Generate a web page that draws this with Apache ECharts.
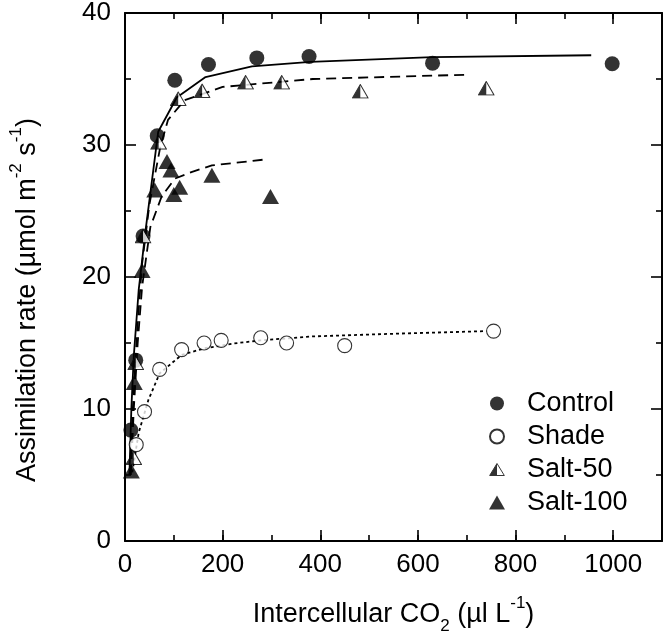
<!DOCTYPE html>
<html>
<head>
<meta charset="utf-8">
<script src="https://cdn.jsdelivr.net/npm/echarts@6/dist/echarts.min.js"></script>
<style>html,body{margin:0;padding:0;background:#fff}#c{width:665px;height:641px}</style>
</head>
<body>
<div id="c"></div>
<script>
// ---- data ----
const seriesNames = ['Control', 'Shade', 'Salt-50', 'Salt-100'];
const controlX = [12, 22, 37, 66, 102, 171, 270, 377, 630, 998];
const controlY = [8.4, 13.7, 23.1, 30.7, 34.9, 36.1, 36.6, 36.7, 36.2, 36.15];
const shadeX = [23, 40, 71, 116, 162, 197, 278, 331, 450, 755];
const shadeY = [7.3, 9.8, 13.0, 14.5, 15.0, 15.2, 15.4, 15.0, 14.8, 15.9];
const salt50X = [18, 22, 37, 69, 109, 158, 247, 321, 482, 740];
const salt50Y = [6.3, 13.5, 23.1, 30.2, 33.5, 34.1, 34.75, 34.75, 34.07, 34.3];
const salt100X = [13, 19, 35, 61, 86, 94, 100, 112, 178, 298];
const salt100Y = [5.3, 12.0, 20.5, 26.6, 28.75, 28.1, 26.25, 26.8, 27.7, 26.1];
// fitted curves
const controlFitX = [9, 13, 18, 28, 42, 68, 106, 165, 260, 380, 630, 955];
const controlFitY = [5.0, 10.0, 14.0, 19.0, 23.5, 31.0, 33.6, 35.15, 35.95, 36.3, 36.65, 36.8];
const shadeFitX = [15, 28, 48, 71, 116, 163, 224, 278, 385, 550, 740];
const shadeFitY = [5.2, 8.2, 10.7, 12.7, 14.1, 14.6, 14.97, 15.2, 15.5, 15.7, 15.9];
const salt50FitX = [10, 16, 25, 35, 50, 72, 88, 122, 200, 385, 705];
const salt50FitY = [5.0, 10.0, 16.0, 21.0, 25.5, 29.8, 31.9, 33.4, 34.4, 35.0, 35.33];
const salt100FitX = [12, 18, 26, 35, 52, 75, 102, 136, 178, 286];
const salt100FitY = [5.0, 10.0, 15.0, 19.25, 23.8, 26.1, 27.45, 27.95, 28.45, 28.9];
const xTickLabels = [0, 200, 400, 600, 800, 1000];
const yTickLabels = [0, 10, 20, 30, 40];

const FONT = 'Liberation Sans';
const zip = (xs, ys) => xs.map((x, i) => [x, ys[i]]);
const halfTri = "<svg xmlns='http://www.w3.org/2000/svg' width='36' height='30' viewBox='0 0 36 30'>" +
  "<polygon points='18,1.5 34.5,28.5 1.5,28.5' fill='white' stroke='black' stroke-width='2.2'/>" +
  "<polygon points='18,1.5 18,28.5 1.5,28.5' fill='black'/></svg>";
const halfTriSym = 'image://data:image/svg+xml;utf8,' + encodeURIComponent(halfTri);

const nameRich = {
  t: {fontSize: 27, fontFamily: FONT, color: '#000', lineHeight: 40, verticalAlign: 'middle'},
  sub: {fontSize: 17, fontFamily: FONT, color: '#000', lineHeight: 6, verticalAlign: 'bottom'},
  sup: {fontSize: 17, fontFamily: FONT, color: '#000', lineHeight: 30, verticalAlign: 'top'}
};
const axLine = {show: true, onZero: false, lineStyle: {color: '#000', width: 2}};
const noLine = {show: false, onZero: false};
const tick = {show: true, inside: true, length: 11, lineStyle: {color: '#000', width: 1.6}};
const shortTick = {show: true, inside: true, length: 6, lineStyle: {color: '#000', width: 1.6}};
const minor = {show: true, splitNumber: 2, length: 6, lineStyle: {color: '#000', width: 1.6}};
const lbl = {fontSize: 26, fontFamily: FONT, color: '#000'};
const xBase = {type: 'value', min: 0, max: 1100, splitLine: {show: false}};

const chart = echarts.init(document.getElementById('c'), null, {renderer: 'canvas'});
chart.setOption({
  animation: false,
  backgroundColor: '#fff',
  grid: {left: 119, right: 2, top: 12, bottom: 100},
  xAxis: [
    Object.assign({}, xBase, {interval: 200, position: 'bottom',
     axisLine: axLine, axisTick: tick,
     axisLabel: Object.assign({margin: 11, formatter: v => xTickLabels.includes(v) ? String(v) : ''}, lbl),
     name: '{t|Intercellular CO}{sub|2}{t| (µl L}{sup|-1}{t|)}', nameLocation: 'middle', nameGap: 54,
     nameTextStyle: {rich: nameRich}}),
    Object.assign({}, xBase, {interval: 200, position: 'top',
     axisLine: axLine, axisTick: tick, axisLabel: {show: false}}),
    Object.assign({}, xBase, {interval: 100, position: 'bottom',
     axisLine: noLine, axisTick: shortTick, axisLabel: {show: false}}),
    Object.assign({}, xBase, {interval: 100, position: 'top',
     axisLine: noLine, axisTick: shortTick, axisLabel: {show: false}})
  ],
  yAxis: [
    {type: 'value', min: 0, max: 40, interval: 10, position: 'left',
     axisLine: axLine, axisTick: tick, minorTick: minor, splitLine: {show: false},
     axisLabel: Object.assign({margin: 14, formatter: v => yTickLabels.includes(v) ? String(v) : ''}, lbl),
     name: '{t|Assimilation rate (µmol m}{sup|-2}{t| s}{sup|-1}{t|)}', nameLocation: 'middle', nameGap: 77,
     nameTextStyle: {rich: nameRich, padding: [0, 46, 0, 0]}},
    {type: 'value', min: 0, max: 40, interval: 10, position: 'right',
     axisLine: axLine, axisTick: tick, minorTick: minor, splitLine: {show: false}, axisLabel: {show: false}}
  ],
  legend: {
    data: seriesNames, orient: 'vertical', left: 484, top: 385,
    itemWidth: 16, itemHeight: 14, itemGap: 6, symbolKeepAspect: true,
    textStyle: {fontSize: 27, fontFamily: FONT, color: '#000', lineHeight: 27, padding: [0, 0, 0, 17]}
  },
  series: [
    {name: 'fitControl', type: 'line', data: zip(controlFitX, controlFitY), symbol: 'none', z: 1,
     lineStyle: {color: '#000', width: 1.8, type: 'solid'}},
    {name: 'fitShade', type: 'line', data: zip(shadeFitX, shadeFitY), symbol: 'none', z: 1,
     lineStyle: {color: '#000', width: 1.8, type: [3, 3]}},
    {name: 'fitSalt50', type: 'line', data: zip(salt50FitX, salt50FitY), symbol: 'none', z: 1,
     lineStyle: {color: '#000', width: 1.8, type: [10, 6]}},
    {name: 'fitSalt100', type: 'line', data: zip(salt100FitX, salt100FitY), symbol: 'none', z: 1,
     lineStyle: {color: '#000', width: 1.8, type: [10, 6]}},
    {name: 'Control', type: 'scatter', data: zip(controlX, controlY), symbol: 'circle', symbolSize: 15, z: 3,
     itemStyle: {color: '#000'}},
    {name: 'Shade', type: 'scatter', data: zip(shadeX, shadeY), symbol: 'circle', symbolSize: 14, z: 3,
     itemStyle: {color: '#fff', borderColor: '#000', borderWidth: 1.1}},
    {name: 'Salt-50', type: 'scatter', data: zip(salt50X, salt50Y), symbol: halfTriSym, symbolSize: [17, 15], z: 4,
     itemStyle: {color: '#000'}},
    {name: 'Salt-100', type: 'scatter', data: zip(salt100X, salt100Y), symbol: 'triangle', symbolSize: [17, 15], z: 4,
     itemStyle: {color: '#000'}}
  ]
});
</script>
</body>
</html>
